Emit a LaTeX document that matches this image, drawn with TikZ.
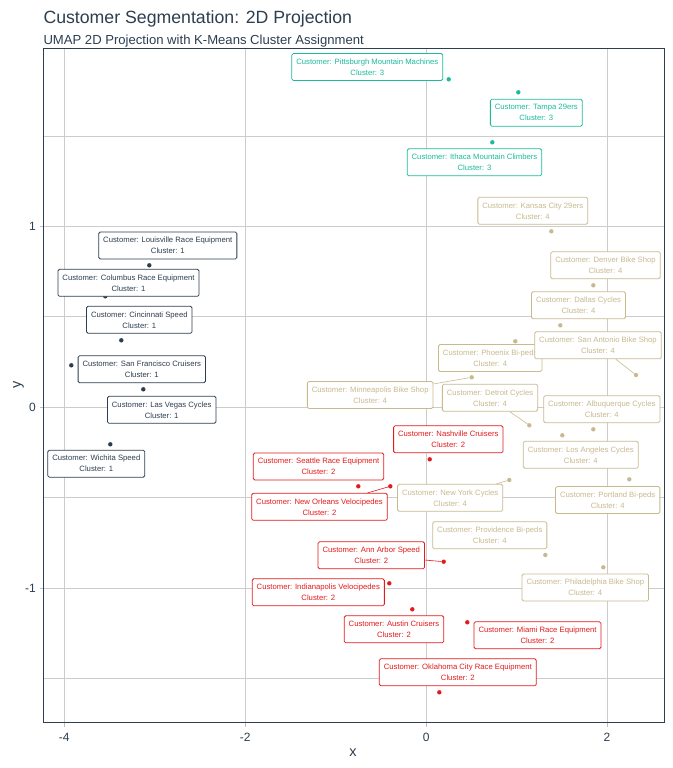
\documentclass[tikz,border=0pt]{standalone}
\usepackage{fontspec}
\setmainfont{Liberation Sans}
\definecolor{cA}{HTML}{2C3E50}
\definecolor{cB}{HTML}{E41A1C}
\definecolor{cC}{HTML}{1ABC9C}
\definecolor{cD}{HTML}{C9B98F}
\definecolor{gridc}{HTML}{CCCCCC}
\definecolor{tickc}{HTML}{BFBFBF}
\definecolor{txt}{HTML}{2C3E50}
\pgfdeclarelayer{gridlayer}
\pgfdeclarelayer{seglayer}
\pgfsetlayers{gridlayer,seglayer,main}
\tikzset{
  pt/.style={circle, fill=#1, inner sep=0pt, minimum size=4.4pt},
  lbl/.style={draw=#1, text=#1, fill=white, rounded corners=1.5pt, line width=0.8pt,
    inner xsep=4.5pt, inner ysep=0pt, minimum height=27pt, align=center,
    font=\fontsize{7.7}{11}\selectfont},
  seg/.style={draw=#1, line width=0.6pt},
  gridline/.style={draw=gridc, line width=0.8pt},
  tickline/.style={draw=tickc, line width=0.8pt},
  ticklab/.style={text=txt, font=\fontsize{12}{14}\selectfont, inner sep=0pt},
}
\begin{document}
\begin{tikzpicture}[x=1pt,y=-1pt]
\useasboundingbox (0,0) rectangle (672,768);
% titles
\node[anchor=base west, inner sep=0pt, text=txt, font=\fontsize{17.7}{20}\selectfont] (title) at (43.3,24) {Customer Segmentation: 2D Projection};
\node[anchor=base west, inner sep=0pt, text=txt, font=\fontsize{13.1}{16}\selectfont] (subtitle) at (43.3,44.7) {UMAP 2D Projection with K-Means Cluster Assignment};
% grid
\begin{pgfonlayer}{gridlayer}
\foreach \yy in {136.3,226.3,316.8,407.3,497.8,588.3,678.8}
  \draw[gridline] (43.3,\yy) -- (664.3,\yy);
\foreach \xx in {64.3,245.3,426.3,607}
  \draw[gridline] (\xx,48.3) -- (\xx,722.7);
\end{pgfonlayer}
\draw[draw=cA, line width=1.2pt] (43.3,48.3) rectangle (664.3,722.7);
% ticks
\foreach \xx/\lab in {64.3/-4,245.3/-2,426.3/0,607/2}{
  \draw[tickline] (\xx,723.3) -- (\xx,726.5);
  \node[ticklab] at (\xx,737.5) {\lab};
}
\foreach \yy/\lab in {226.3/1,407.3/0,588.3/-1}{
  \draw[tickline] (39.5,\yy) -- (42.7,\yy);
  \node[ticklab, anchor=east] at (36,\yy) {\lab};
}
\node[text=txt, font=\fontsize{14.5}{16}\selectfont, inner sep=0pt] (xlab) at (353,753) {x};
\node[text=txt, font=\fontsize{14.5}{16}\selectfont, inner sep=0pt, rotate=90] (ylab) at (18.5,385) {y};
% points
\node[pt=cC] (p1) at (448.7,79.3) {};
\node[pt=cC] (p2) at (518.3,92.3) {};
\node[pt=cC] (p3) at (492.3,142.3) {};
\node[pt=cD] (p4) at (551.3,231.3) {};
\node[pt=cD] (p5) at (593.3,285.3) {};
\node[pt=cD] (p6) at (560.3,325.3) {};
\node[pt=cD] (p7) at (636,375) {};
\node[pt=cD] (p8) at (515.3,341.3) {};
\node[pt=cD] (p9) at (471.7,377.3) {};
\node[pt=cD] (p10) at (529.3,425.3) {};
\node[pt=cD] (p11) at (593.3,429.3) {};
\node[pt=cD] (p12) at (562.3,435.3) {};
\node[pt=cD] (p13) at (629.3,479.3) {};
\node[pt=cD] (p14) at (509.3,480) {};
\node[pt=cD] (p15) at (545.3,555) {};
\node[pt=cD] (p16) at (603.3,567.3) {};
\node[pt=cB] (p17) at (429.7,459.3) {};
\node[pt=cB] (p18) at (358.3,486.3) {};
\node[pt=cB] (p19) at (390.3,486.3) {};
\node[pt=cB] (p20) at (443.7,561.7) {};
\node[pt=cB] (p21) at (389.3,583.3) {};
\node[pt=cB] (p22) at (412.3,609.3) {};
\node[pt=cB] (p23) at (467.3,622.3) {};
\node[pt=cB] (p24) at (439.3,692.3) {};
\node[pt=cA] (p25) at (149.3,265.3) {};
\node[pt=cA] (p26) at (105.3,296.3) {};
\node[pt=cA] (p27) at (121.3,340.3) {};
\node[pt=cA] (p28) at (71.3,365.3) {};
\node[pt=cA] (p29) at (143.3,389.3) {};
\node[pt=cA] (p30) at (110.3,444.3) {};
% labels
\node[lbl=cC] (l1) at (367.3,67) {Customer: Pittsburgh Mountain Machines\\Cluster: 3};
\node[lbl=cC] (l2) at (536.3,112.8) {Customer: Tampa 29ers\\Cluster: 3};
\node[lbl=cC] (l3) at (474.5,162.3) {Customer: Ithaca Mountain Climbers\\Cluster: 3};
\node[lbl=cD] (l4) at (532.8,210.8) {Customer: Kansas City 29ers\\Cluster: 4};
\node[lbl=cD] (l5) at (605.5,265.3) {Customer: Denver Bike Shop\\Cluster: 4};
\node[lbl=cD] (l6) at (578.5,305.3) {Customer: Dallas Cycles\\Cluster: 4};
\node[lbl=cD] (l8) at (490.2,358) {Customer: Phoenix Bi-peds\\Cluster: 4};
\node[lbl=cD] (l7) at (598,345.3) {Customer: San Antonio Bike Shop\\Cluster: 4};
\node[lbl=cD] (l9) at (370.2,395) {Customer: Minneapolis Bike Shop\\Cluster: 4};
\node[lbl=cD] (l10) at (490,397.8) {Customer: Detroit Cycles\\Cluster: 4};
\node[lbl=cD] (l11) at (601.8,409.2) {Customer: Albuquerque Cycles\\Cluster: 4};
\node[lbl=cD] (l12) at (580.8,454.8) {Customer: Los Angeles Cycles\\Cluster: 4};
\node[lbl=cD] (l13) at (607.7,500) {Customer: Portland Bi-peds\\Cluster: 4};
\node[lbl=cD] (l14) at (450.2,497.8) {Customer: New York Cycles\\Cluster: 4};
\node[lbl=cD] (l15) at (489.8,535.3) {Customer: Providence Bi-peds\\Cluster: 4};
\node[lbl=cD] (l16) at (585.3,587.5) {Customer: Philadelphia Bike Shop\\Cluster: 4};
\node[lbl=cB] (l17) at (448.3,439.3) {Customer: Nashville Cruisers\\Cluster: 2};
\node[lbl=cB] (l18) at (318.5,466.5) {Customer: Seattle Race Equipment\\Cluster: 2};
\node[lbl=cB] (l19) at (319.5,506.8) {Customer: New Orleans Velocipedes\\Cluster: 2};
\node[lbl=cB] (l20) at (371.3,555.3) {Customer: Ann Arbor Speed\\Cluster: 2};
\node[lbl=cB] (l21) at (318.3,592.3) {Customer: Indianapolis Velocipedes\\Cluster: 2};
\node[lbl=cB] (l22) at (394,629.3) {Customer: Austin Cruisers\\Cluster: 2};
\node[lbl=cB] (l23) at (537.5,635.3) {Customer: Miami Race Equipment\\Cluster: 2};
\node[lbl=cB] (l24) at (457.8,672.3) {Customer: Oklahoma City Race Equipment\\Cluster: 2};
\node[lbl=cA] (l25) at (167.8,245.5) {Customer: Louisville Race Equipment\\Cluster: 1};
\node[lbl=cA] (l26) at (128.5,282.8) {Customer: Columbus Race Equipment\\Cluster: 1};
\node[lbl=cA] (l27) at (139.3,319.8) {Customer: Cincinnati Speed\\Cluster: 1};
\node[lbl=cA] (l28) at (141.8,369.3) {Customer: San Francisco Cruisers\\Cluster: 1};
\node[lbl=cA] (l29) at (161.7,409.8) {Customer: Las Vegas Cycles\\Cluster: 1};
\node[lbl=cA] (l30) at (96.3,463.7) {Customer: Wichita Speed\\Cluster: 1};
% connectors
\begin{pgfonlayer}{seglayer}
\draw[seg=cD] (l7) -- (p7);
\draw[seg=cD] (l9) -- (p9);
\draw[seg=cD] (l10) -- (p10);
\draw[seg=cD] (l14) -- (p14);
\draw[seg=cB] (l19) -- (p19);
\draw[seg=cB] (l20) -- (p20);
\end{pgfonlayer}
\end{tikzpicture}
\end{document}
